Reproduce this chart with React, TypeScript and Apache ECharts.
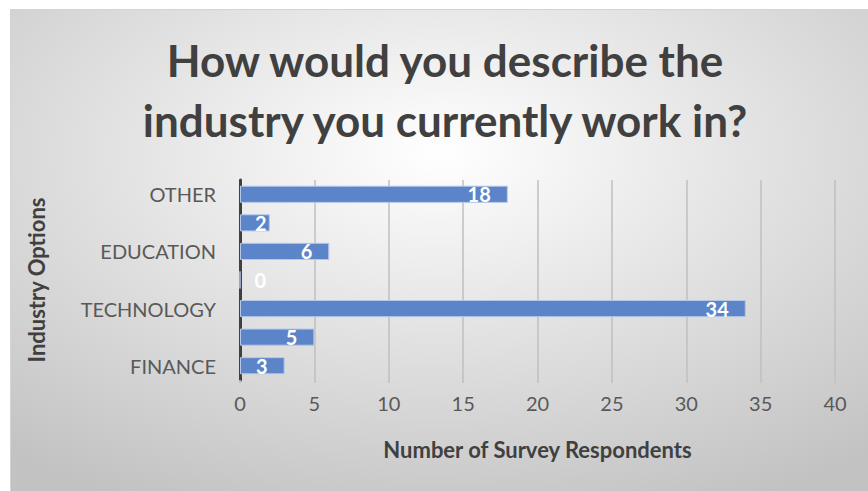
import React, { useEffect, useRef } from "react";
import * as echarts from "echarts";

const categories = ["FINANCE", " ", "TECHNOLOGY", "  ", "EDUCATION", "   ", "OTHER"];
const respondents = [3, 5, 34, 0, 6, 2, 18];
const xTicks = { min: 0, max: 40, interval: 5 };
const titleText = "How would you describe the\nindustry you currently work in?";
const xAxisName = "Number of Survey Respondents";
const yAxisName = "Industry Options";

const FONT = "Lato, 'Open Sans', sans-serif";

export default function App() {
  const ref = useRef<HTMLDivElement>(null);
  useEffect(() => {
    const chart = echarts.init(ref.current!, undefined, { renderer: "svg" });
    chart.setOption({
      animation: false,
      backgroundColor: {
        type: "radial",
        x: 0.5,
        y: 0.3,
        r: 0.8,
        colorStops: [
          { offset: 0, color: "#ffffff" },
          { offset: 1, color: "#c2c2c2" },
        ],
      },
      textStyle: { fontFamily: FONT },
      graphic: [
        {
          type: "rect",
          shape: { x: 0.5, y: 0.5, width: 900, height: 600 },
          style: { fill: "none", stroke: "#d4d4d4", lineWidth: 1 },
          silent: true,
        },
        {
          type: "text",
          x: 435,
          y: 81,
          style: {
            text: titleText,
            fontFamily: FONT,
            fontWeight: "bold",
            fontSize: 44,
            lineHeight: 60,
            fill: "#404040",
            textAlign: "center",
            textVerticalAlign: "middle",
          },
        },
      ],
      grid: { left: 230, top: 171, width: 595, height: 200, containLabel: false },
      xAxis: {
        type: "value",
        min: xTicks.min,
        max: xTicks.max,
        interval: xTicks.interval,
        axisLine: { show: false },
        axisTick: { show: true, length: 3, lineStyle: { color: "#bfbfbf", width: 1.5 } },
        splitLine: { show: true, lineStyle: { color: "#bfbfbf", width: 1.5 } },
        axisLabel: { fontSize: 20, color: "#595959", margin: 13, fontFamily: FONT },
        name: xAxisName,
        nameLocation: "middle",
        nameGap: 58,
        nameTextStyle: { fontSize: 22, fontWeight: "bold", color: "#404040", fontFamily: FONT },
      },
      yAxis: {
        type: "category",
        data: categories,
        axisLine: { show: true, lineStyle: { color: "#404040", width: 3 } },
        axisTick: { show: false },
        splitLine: { show: false },
        axisLabel: { fontSize: 20, color: "#595959", margin: 24, interval: 1, fontFamily: FONT },
        name: yAxisName,
        nameLocation: "middle",
        nameGap: 193,
        nameRotate: 90,
        nameTextStyle: { fontSize: 22, fontWeight: "bold", color: "#404040", fontFamily: FONT },
      },
      series: [
        {
          type: "bar",
          data: respondents.map((v) => ({
            value: v,
            label: v <= 2 ? { position: "insideLeft", distance: 15 } : undefined,
          })),
          barCategoryGap: "40%",
          itemStyle: { color: "#5b84c9", borderColor: "#b4c7e7", borderWidth: 1 },
          label: {
            show: true,
            position: "insideRight",
            distance: 17,
            color: "#ffffff",
            fontWeight: "bold",
            fontSize: 20,
            fontFamily: FONT,
          },
        },
      ],
    });
    return () => chart.dispose();
  }, []);
  return (
    <div
      ref={ref}
      style={{ position: "absolute", left: 10, top: 9, width: 858, height: 482 }}
    />
  );
}
